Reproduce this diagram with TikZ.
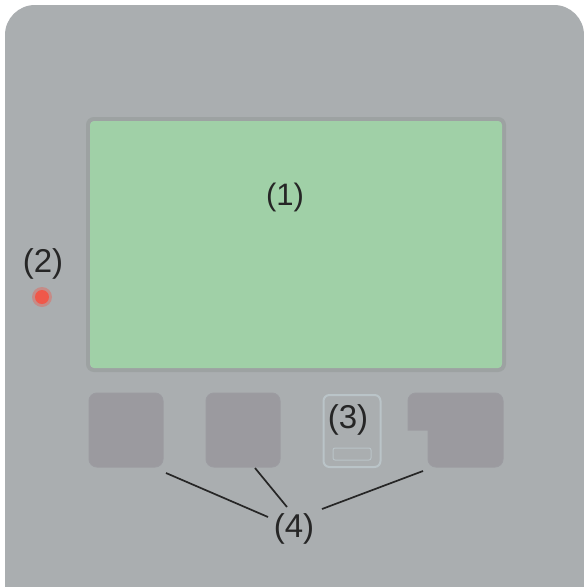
\documentclass[tikz,border=0pt]{standalone}
\usepackage{fontspec}
\setmainfont{Liberation Sans}
\usetikzlibrary{positioning}

\definecolor{panelgray}{RGB}{170, 174, 176}
\definecolor{keygray}{RGB}{155, 154, 159}
\definecolor{lcdgreen}{RGB}{160, 208, 167}
\definecolor{lcdframe}{RGB}{157, 162, 162}
\definecolor{ledred}{RGB}{240, 88, 74}
\definecolor{menuedge}{RGB}{186, 196, 200}

\tikzset{
  keybox/.style={fill=keygray, draw=keygray!90!panelgray, line width=1pt, rounded corners=8pt},
  callout/.style={font=\fontsize{33}{36}\selectfont, text=black!85, inner sep=1pt},
  leader/.style={black!85, line width=1.7pt}
}

\begin{document}
\begin{tikzpicture}[x=1pt, y=-1pt]
  \useasboundingbox (0,0) rectangle (584,587);
  \fill[white] (0,0) rectangle (584,587);

  % housing
  \fill[panelgray, rounded corners=30pt] (5,587) -- (5,5) -- (584,5) -- (584,587) -- cycle;
  \fill[panelgray] (5,560) rectangle (584,587);

  % display
  \draw[lcdframe, line width=4pt, rounded corners=6pt] (88,119) rectangle (504,370);
  \fill[lcdgreen, rounded corners=4pt] (90,121) rectangle (502,368);
  \node[callout, font=\fontsize{31}{34}\selectfont] (lcd) at (285,197) {(1)};

  % status LED
  \node[callout] (ledlbl) at (43,264) {(2)};
  \fill[ledred!40!panelgray] (42,297) circle (10pt);
  \node[circle, fill=ledred, minimum size=14pt, inner sep=0pt] (led) at (42,297) {};

  % keys
  \node[keybox, minimum width=74pt, minimum height=74pt] (keyA) at (126,430) {};
  \node[keybox, minimum width=74pt, minimum height=74pt] (keyB) at (243,430) {};
  \node[draw=menuedge, line width=2pt, rounded corners=6pt,
        minimum width=57pt, minimum height=72pt] (keyC) at (352,431) {};
  \draw[menuedge, line width=1pt, rounded corners=2pt] (333,448) rectangle (371,460);
  \fill[keybox] (408,393) -- (503,393) -- (503,467) -- (428,467)
    [sharp corners] -- (428,430) -- (408,430) [rounded corners=8pt] -- cycle;
  \coordinate (keyD) at (423,471);

  % callouts
  \node[callout] (menu) at (348,420) {(3)};
  \node[callout] (keys) at (294,529) {(4)};
  \coordinate (tipA) at (166,473);
  \coordinate (tipB) at (255,468);
  \draw[leader] (tipA) -- (268,517);
  \draw[leader] (tipB) -- (287,507);
  \draw[leader] (keyD) -- (322,509);
\end{tikzpicture}
\end{document}
